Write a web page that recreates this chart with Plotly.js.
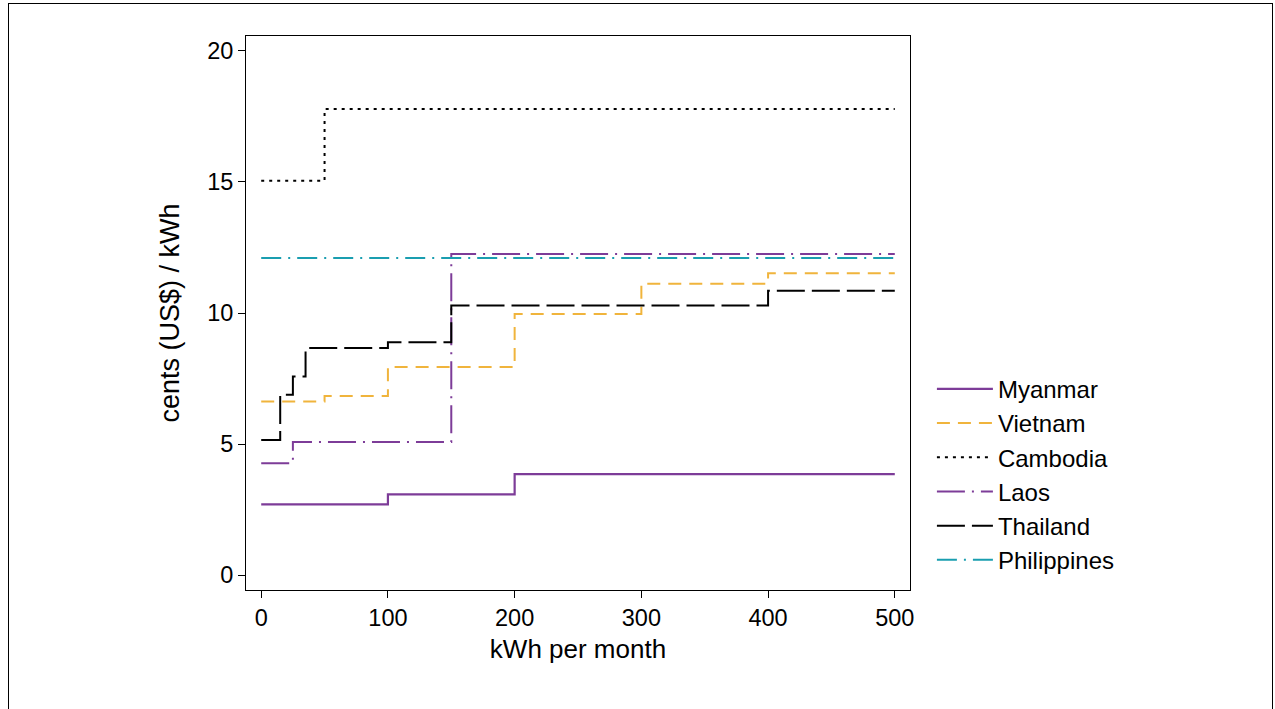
<!DOCTYPE html>
<html>
<head>
<meta charset="utf-8">
<script src="https://cdn.plot.ly/plotly-3.0.1.min.js"></script>
<style>
  html, body { margin: 0; padding: 0; background: #fff; overflow: hidden; }
  #chart { position: absolute; left: 0; top: 0; width: 1275px; height: 709px; }
  #frame { position: absolute; left: 8px; top: 3px; width: 1263px; height: 760px;
           border: 1.5px solid #000; pointer-events: none; }
</style>
</head>
<body>
<div id="chart"></div>
<div id="frame"></div>
<script>
// kWh breakpoints (start of each block, last value = end of axis) and cents/kWh per block
const myanmarX = [0, 100, 200, 500];
const myanmarY = [2.70, 3.08, 3.85, 3.85];

const vietnamX = [0, 50, 100, 200, 300, 400, 500];
const vietnamY = [6.62, 6.83, 7.94, 9.96, 11.12, 11.52, 11.52];

const cambodiaX = [0, 50, 500];
const cambodiaY = [15.05, 17.78, 17.78];

const laosX = [0, 25, 150, 500];
const laosY = [4.27, 5.08, 12.25, 12.25];

const thailandX = [0, 15, 25, 35, 100, 150, 400, 500];
const thailandY = [5.15, 6.88, 7.58, 8.66, 8.88, 10.29, 10.85, 10.85];

const philippinesX = [0, 500];
const philippinesY = [12.10, 12.10];

const seriesNames = ["Myanmar", "Vietnam", "Cambodia", "Laos", "Thailand", "Philippines"];
const xTicks = [0, 100, 200, 300, 400, 500];
const yTicks = [0, 5, 10, 15, 20];

const purple = "#7d3c98";
const orange = "#f0b43c";
const teal = "#1a9eb0";

function stepTrace(name, xs, ys, color, dash, width) {
  return {
    type: "scatter", mode: "lines", name: name,
    x: xs, y: ys,
    line: { shape: "hv", color: color, dash: dash, width: width },
    legendgroup: name
  };
}

const traces = [
  stepTrace(seriesNames[0], myanmarX, myanmarY, purple, "solid", 2.2),
  stepTrace(seriesNames[1], vietnamX, vietnamY, orange, "13px,8px", 2),
  stepTrace(seriesNames[2], cambodiaX, cambodiaY, "#000000", "3px,5px", 2),
  stepTrace(seriesNames[3], laosX, laosY, purple, "28px,7px,2px,7px", 2),
  stepTrace(seriesNames[4], thailandX, thailandY, "#000000", "28px,7px", 2),
  stepTrace(seriesNames[5], philippinesX, philippinesY, teal, "20px,7px,2px,7px", 2)
];

const fontFam = "Liberation Sans, Arial, Helvetica, sans-serif";

const layout = {
  width: 1275, height: 709, autosize: false,
  paper_bgcolor: "#ffffff", plot_bgcolor: "#ffffff",
  margin: { l: 246, r: 365, t: 36, b: 119, pad: 0 },
  font: { family: fontFam, color: "#000000", size: 22 },
  showlegend: true,
  legend: {
    x: 1.033, xanchor: "left", y: 0.208, yanchor: "middle",
    font: { family: fontFam, size: 24, color: "#000" },
    traceorder: "grouped", tracegroupgap: 0,
    itemwidth: 56,
    bgcolor: "rgba(0,0,0,0)", borderwidth: 0
  },
  xaxis: {
    range: [-12, 512], tickvals: xTicks, ticktext: xTicks.map(String),
    ticks: "outside", ticklen: 7, tickwidth: 1, tickcolor: "#000",
    showline: true, linecolor: "#000", linewidth: 1, mirror: true,
    showgrid: false, zeroline: false,
    tickfont: { family: fontFam, size: 23.5, color: "#000" },
    title: { text: "kWh per month", font: { family: fontFam, size: 26, color: "#000" }, standoff: 9 }
  },
  yaxis: {
    range: [-0.57, 20.57], tickvals: yTicks, ticktext: yTicks.map(String),
    ticks: "outside", ticklen: 7, tickwidth: 1, tickcolor: "#000",
    showline: true, linecolor: "#000", linewidth: 1, mirror: true,
    showgrid: false, zeroline: false,
    tickfont: { family: fontFam, size: 23.5, color: "#000" },
    title: { text: "cents (US$) / kWh", font: { family: fontFam, size: 27, color: "#000" }, standoff: 19 }
  }
};

Plotly.newPlot("chart", traces, layout, { displayModeBar: false, staticPlot: true });
</script>
</body>
</html>
